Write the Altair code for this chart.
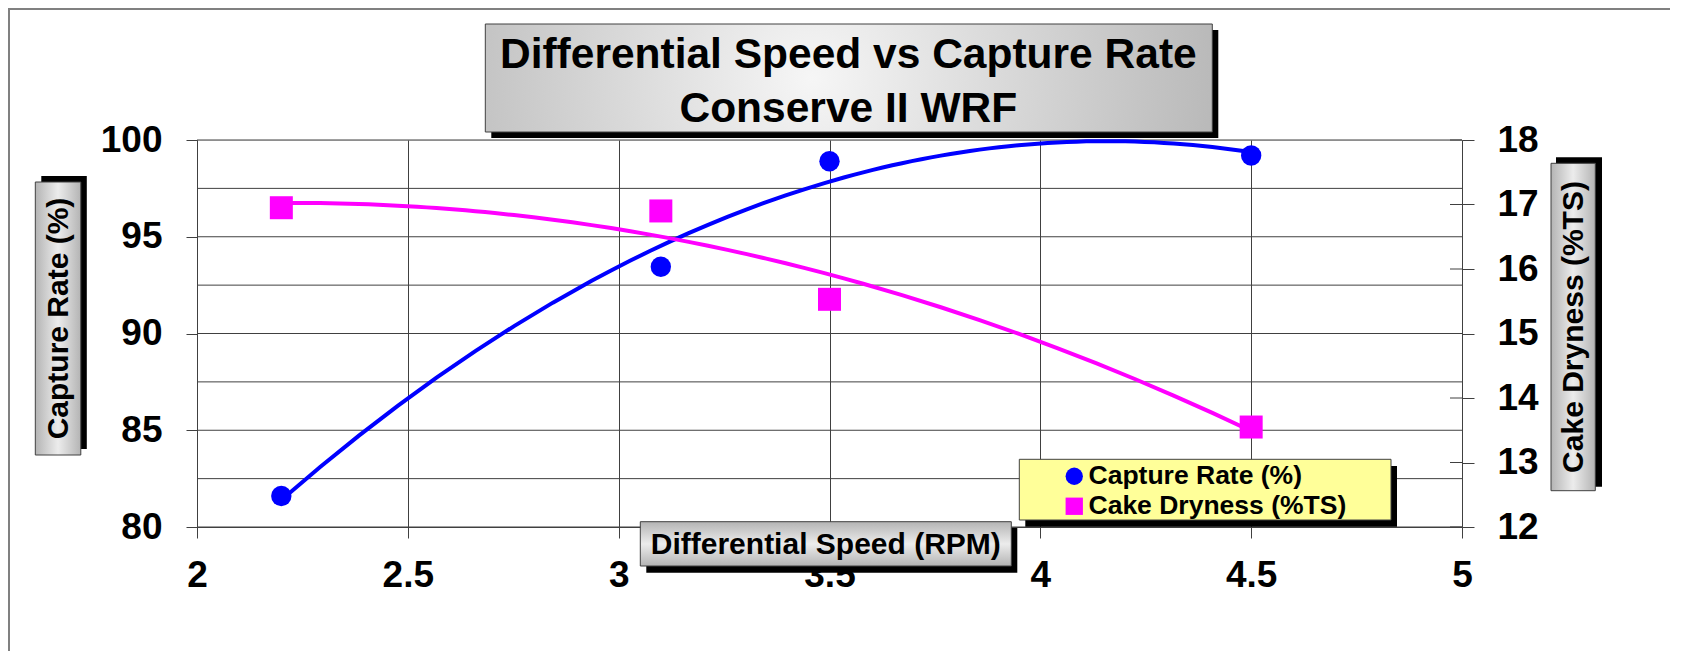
import altair as alt
import pandas as pd

# ---- data ----
speed = [2.2, 3.1, 3.5, 4.5]
capture_rate = [81.6, 93.45, 98.9, 99.2]
cake_dryness = [16.95, 16.9, 15.53, 13.55]
series_names = ["Capture Rate (%)", "Cake Dryness (%TS)"]
x_ticks = [2, 2.5, 3, 3.5, 4, 4.5, 5]
left_ticks = [80, 85, 90, 95, 100]
left_grid = [80, 82.5, 85, 87.5, 90, 92.5, 95, 97.5, 100]
right_ticks = [12, 13, 14, 15, 16, 17, 18]
title_lines = ["Differential Speed vs Capture Rate", "Conserve II WRF"]
x_title = "Differential Speed (RPM)"
y_left_title = "Capture Rate (%)"
y_right_title = "Cake Dryness (%TS)"

W, H = 1265, 387
FONT = "Liberation Sans"
BLUE = "#0000FF"
MAGENTA = "#FF00FF"
GRID = "#404040"

cap_df = pd.DataFrame({"speed": speed, "value": capture_rate, "series": series_names[0]})
dry_df = pd.DataFrame({"speed": speed, "value": cake_dryness, "series": series_names[1]})
lgrid_df = pd.DataFrame({"value": left_grid})
rtick_df = pd.DataFrame({"value": right_ticks})
one = pd.DataFrame({"d": [0]})

x_enc = alt.X(
    "speed:Q",
    scale=alt.Scale(domain=[2, 5], nice=False, zero=False),
    axis=alt.Axis(values=x_ticks, format="~g", grid=True, gridColor=GRID, gridWidth=1,
                  tickSize=11, tickColor=GRID, domainColor=GRID, labelFlush=False,
                  labelFontSize=37, labelFont=FONT, labelFontWeight="bold",
                  labelColor="black", labelPadding=19, title=None),
)

left_y = alt.Y(
    "value:Q",
    scale=alt.Scale(domain=[80, 100], nice=False, zero=False),
    axis=alt.Axis(values=left_ticks, orient="left", grid=False, tickSize=11,
                  tickColor=GRID, domainColor=GRID, labelFontSize=37, labelFont=FONT,
                  labelFontWeight="bold", labelColor="black", labelPadding=24, title=None),
)
right_y = alt.Y(
    "value:Q",
    scale=alt.Scale(domain=[12, 18], nice=False, zero=False),
    axis=alt.Axis(values=right_ticks, orient="right", grid=False, tickSize=12,
                  tickColor=GRID, domainColor=GRID, labelFontSize=37, labelFont=FONT,
                  labelFontWeight="bold", labelColor="black", labelPadding=23, title=None),
)

legend = alt.Legend(orient="none", legendX=864, legendY=323, title=None,
                    labelFont=FONT, labelFontWeight="bold", labelFontSize=26.5,
                    labelColor="black", labelLimit=0, symbolSize=300, symbolOpacity=1,
                    symbolStrokeWidth=0, labelOffset=1, rowPadding=3, padding=0)
color_enc = alt.Color("series:N", scale=alt.Scale(domain=series_names, range=[BLUE, MAGENTA]),
                      legend=legend)
shape_enc = alt.Shape("series:N", scale=alt.Scale(domain=series_names, range=["circle", "square"]),
                      legend=legend)

# capture rate group (left axis)
cap_grid = alt.Chart(lgrid_df).mark_rule(color=GRID, strokeWidth=1).encode(y=left_y)
cap_line = alt.Chart(cap_df).transform_regression(
    "speed", "value", method="poly", order=2, extent=[2.2, 4.5]
).mark_line(color=BLUE, strokeWidth=4).encode(x=x_enc, y=left_y)
cap_pts = alt.Chart(cap_df).mark_point(filled=True, size=415, opacity=1, strokeWidth=0).encode(
    x=x_enc, y=left_y, color=color_enc, shape=shape_enc)
blue = alt.layer(cap_grid, cap_line, cap_pts)

# cake dryness group (right axis)
dry_stub = alt.Chart(rtick_df).mark_rule(color=GRID, strokeWidth=1).encode(
    x=alt.value(W - 12), x2=alt.value(W), y=right_y)
dry_line = alt.Chart(dry_df).transform_regression(
    "speed", "value", method="poly", order=2, extent=[2.2, 4.5]
).mark_line(color=MAGENTA, strokeWidth=4).encode(x=x_enc, y=right_y)
dry_pts = alt.Chart(dry_df).mark_point(filled=True, size=529, opacity=1, strokeWidth=0).encode(
    x=x_enc, y=right_y, color=color_enc, shape=shape_enc)
pink = alt.layer(dry_stub, dry_line, dry_pts)


def box(x1, x2, y1, y2, fill, stroke=None):
    kw = dict(fill=fill)
    if stroke:
        kw.update(stroke=stroke, strokeWidth=1)
    return alt.Chart(one).mark_rect(**kw).encode(
        x=alt.value(x1), x2=alt.value(x2), y=alt.value(y1), y2=alt.value(y2))


def text(x, y, s, size, angle=0, baseline="alphabetic"):
    kw = dict(font=FONT, fontWeight="bold", fontSize=size, color="black",
              align="center", baseline=baseline)
    if angle:
        kw["angle"] = angle
    return alt.Chart(one).mark_text(**kw).encode(
        x=alt.value(x), y=alt.value(y), text=alt.value(s))


def stops(*pairs):
    return [alt.GradientStop(offset=o, color=c) for o, c in pairs]


radial = alt.Gradient(gradient="radial", stops=stops((0, "#f6f6f6"), (1, "#b2b2b2")),
                      x1=0.45, y1=0.5, r1=0, x2=0.45, y2=0.5, r2=0.62)
vert_grad = alt.Gradient(gradient="linear", stops=stops((0, "#b4b4b4"), (0.5, "#ececec"), (1, "#b4b4b4")),
                         x1=0, x2=1, y1=0, y2=0)
horiz_grad = alt.Gradient(gradient="linear", stops=stops((0, "#b4b4b4"), (0.5, "#ececec"), (1, "#b4b4b4")),
                          x1=0, x2=0, y1=0, y2=1)

outer = alt.Chart(one).mark_rect(fill="white", fillOpacity=0, stroke="#808080", strokeWidth=2).encode(
    x=alt.value(-188), x2=alt.value(W + 400), y=alt.value(-131), y2=alt.value(H + 300))

decor = [
    # main title
    box(294.3, 1021.3, -110, -2, "black"),
    box(288.3, 1015.3, -116, -8, radial, "#404040"),
    text(651.3, -72, title_lines[0], 42.5),
    text(651.3, -18, title_lines[1], 42.5),
    # left axis title
    box(-155.7, -110.2, 36, 309, "black"),
    box(-161.7, -116.2, 42, 315, vert_grad, "#404040"),
    text(-138.5, 178.5, y_left_title, 30, angle=270, baseline="middle"),
    # right axis title
    box(1359, 1405, 17.3, 346.7, "black"),
    box(1354, 1398.3, 23.3, 350.7, vert_grad, "#404040"),
    text(1376.5, 187, y_right_title, 30, angle=270, baseline="middle"),
    # x axis title
    box(449.3, 820.3, 388, 432.7, "black"),
    box(443.3, 814.3, 381.7, 426, horiz_grad, "#404040"),
    text(628.8, 414, x_title, 30),
    # legend box
    box(828.3, 1200, 326, 386.7, "black"),
    box(822.3, 1194, 319.3, 380, "#FFFF99", "#404040"),
]

chart = alt.layer(outer, blue, pink, *decor).resolve_scale(y="independent").properties(
    width=W, height=H,
    padding={"left": 189, "top": 132, "right": 208, "bottom": 124},
    autosize=alt.AutoSizeParams(type="none"),
).configure_view(stroke=None).configure(background="white")

chart.save("out.html", embed_options={"renderer": "svg", "actions": False})
